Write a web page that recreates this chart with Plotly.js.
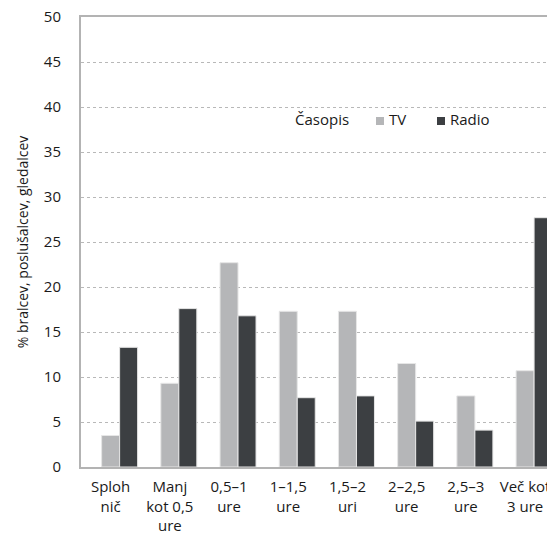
<!DOCTYPE html>
<html>
<head>
<meta charset="utf-8">
<script src="https://cdn.plot.ly/plotly-3.0.1.min.js"></script>
<style>html,body{margin:0;padding:0;background:#fff;}</style>
</head>
<body>
<div id="chart" style="width:547px;height:535px;"></div>
<script>
const categories = ["Sploh<br>nič", "Manj<br>kot 0,5<br>ure", "0,5–1<br>ure", "1–1,5<br>ure", "1,5–2<br>uri", "2–2,5<br>ure", "2,5–3<br>ure", "Več kot<br>3 ure"];
const casopis = [0, 0, 0, 0, 0, 0, 0, 0];
const tv = [3.5, 9.3, 22.7, 17.3, 17.3, 11.5, 7.9, 10.7];
const radio = [13.3, 17.6, 16.8, 7.7, 7.9, 5.1, 4.1, 27.7];
const seriesNames = ["Časopis", "TV", "Radio"];
const seriesColors = ["#ffffff", "#b5b6b8", "#3c3f42"];
const yTitle = "% bralcev, poslušalcev, gledalcev";

const FONT = "Open Sans, Noto Sans, sans-serif";
const TXT = "#1a1a1a";
const traces = [
  {type: "bar", name: seriesNames[0], x: categories, y: casopis, marker: {color: seriesColors[0]}, showlegend: false},
  {type: "bar", name: seriesNames[1], x: categories, y: tv, marker: {color: seriesColors[1], line: {color: "#e6e6e6", width: 1}}, showlegend: false},
  {type: "bar", name: seriesNames[2], x: categories, y: radio, marker: {color: seriesColors[2], line: {color: "#e6e6e6", width: 1}}, showlegend: false}
];

// manual legend (paper coordinates)
const legY = 0.7733;
const legText = [0.4549, 0.6567, 0.7876];
const legSq = [null, [0.6330, 0.6502], [0.7639, 0.7811]];
const annotations = seriesNames.map((n, i) => ({
  text: n, xref: "paper", yref: "paper", x: legText[i], y: legY,
  xanchor: "left", yanchor: "middle", showarrow: false,
  font: {family: FONT, size: 15, color: TXT}
}));
const shapes = [];
for (let i = 1; i < 3; i++) {
  shapes.push({type: "rect", xref: "paper", yref: "paper",
    x0: legSq[i][0], x1: legSq[i][1], y0: 0.760, y1: 0.7778,
    fillcolor: seriesColors[i], line: {width: 0}});
}

const layout = {
  width: 547, height: 535,
  margin: {l: 81, r: 0, t: 17, b: 68},
  paper_bgcolor: "#ffffff", plot_bgcolor: "#ffffff",
  font: {family: FONT, size: 15, color: TXT},
  barmode: "group", bargap: 0.088, bargroupgap: 0,
  showlegend: false,
  annotations: annotations,
  shapes: shapes,
  xaxis: {type: "category", range: [-0.5, 7.37], showgrid: false, zeroline: false,
          showline: true, linecolor: "#b3b3b3", linewidth: 2, mirror: true,
          ticks: "", tickfont: {family: FONT, size: 15, color: TXT}, ticklabelstandoff: 5},
  yaxis: {range: [0, 50], dtick: 5, showgrid: true, gridcolor: "#b8b8b8", griddash: "dot", gridwidth: 1,
          zeroline: false, showline: true, linecolor: "#b3b3b3", linewidth: 2, ticks: "",
          tickfont: {family: FONT, size: 15, color: TXT}, ticklabelstandoff: 15,
          title: {text: yTitle, font: {family: FONT, size: 14, color: TXT}, standoff: 12}}
};

Plotly.newPlot("chart", traces, layout, {displayModeBar: false, staticPlot: true});
</script>
</body>
</html>
